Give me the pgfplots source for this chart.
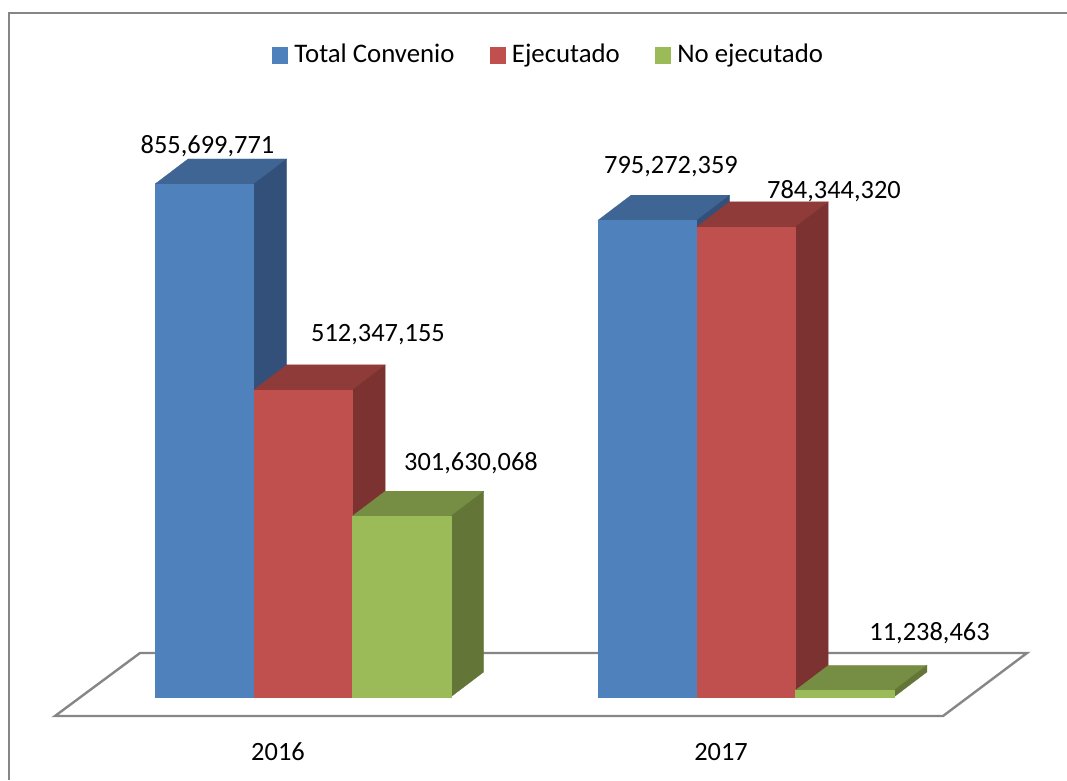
\documentclass[border=0pt]{standalone}
\usepackage{fontspec}
\setmainfont{Carlito}
\usepackage{pgfplots}
\pgfplotsset{compat=1.18}

\definecolor{blueF}{HTML}{4F81BD}
\definecolor{blueT}{HTML}{3E6594}
\definecolor{blueS}{HTML}{32507A}
\definecolor{redF}{HTML}{C0504D}
\definecolor{redT}{HTML}{8F3B39}
\definecolor{redS}{HTML}{7B3230}
\definecolor{greenF}{HTML}{9BBB59}
\definecolor{greenT}{HTML}{758E43}
\definecolor{greenS}{HTML}{637537}
\definecolor{frame}{HTML}{868686}

% bar width 98.5 px, depth 33 px across and 25 px up (41700575 in value units)
% #1 left edge, #2 value, #3 colour prefix
\newcommand\cuboid[3]{%
  \addplot[fill=#3T,draw=#3T,line width=0.2pt,forget plot] coordinates {
    ({#1},#2) ({#1+98.5},#2) ({#1+131.5},{#2+41700575}) ({#1+33},{#2+41700575})} --cycle;
  \addplot[fill=#3S,draw=#3S,line width=0.2pt,forget plot] coordinates {
    ({#1+98.5},0) ({#1+131.5},41700575) ({#1+131.5},{#2+41700575}) ({#1+98.5},#2)} --cycle;
  \addplot[fill=#3F,draw=#3F,line width=0.2pt,forget plot] coordinates {
    ({#1},0) ({#1+98.5},0) ({#1+98.5},#2) ({#1},#2)} --cycle;
}

\begin{document}%
\fontsize{26.4}{30}\selectfont%
\begin{tikzpicture}
\path[use as bounding box] (0,-64pt) rectangle (1067pt,716pt);
\begin{axis}[
  at={(0,0)},
  anchor=south west,
  scale only axis,
  width=1067pt,
  height=716pt,
  xmin=0,
  xmax=1067,
  ymin=-31692437,
  ymax=1162612031,
  clip=false,
  axis line style={draw=none},
  tick style={draw=none},
  ytick=\empty,
  xtick={278,721},
  xticklabels={2016,2017},
  xticklabel style={yshift=-18pt},
  legend columns=3,
  legend cell align=left,
  legend style={
    at={(axis cs:548.5,1071000000)},
    anchor=center,
    draw=none,
    fill=none,
    inner sep=0pt,
    font=\fontsize{26.8}{30}\selectfont,
    /tikz/every even column/.append style={column sep=33pt},
    /tikz/every odd column/.append style={column sep=5pt},
  },
  legend image code/.code={\fill[#1] (0pt,-8pt) rectangle (15pt,8pt);},
]
% chart frame, cut off by the page on the right and at the bottom
\addplot[draw=frame,line width=2pt,forget plot] coordinates {
  (9,-138445909) (9,1140927731) (1067,1140927731)};
% floor
\addplot[fill=white,draw=frame,line width=2.4pt,forget plot] coordinates {
  (55,-31692437) (140,73393012) (1027,73393012) (943,-31692437)} --cycle;

\cuboid{155}{855699771}{blue}
\cuboid{253.7}{512347155}{red}
\cuboid{352.2}{301630068}{green}
\cuboid{598}{795272359}{blue}
\cuboid{696.7}{784344320}{red}
\cuboid{795.4}{11238463}{green}

\addlegendimage{blueF}
\addlegendentry{Total Convenio}
\addlegendimage{redF}
\addlegendentry{Ejecutado}
\addlegendimage{greenF}
\addlegendentry{No ejecutado}

\node at (axis cs:207.5,918500000) {855,699,771};
\node at (axis cs:378,604500000) {512,347,155};
\node at (axis cs:471,390000000) {301,630,068};
\node at (axis cs:671,885500000) {795,272,359};
\node at (axis cs:834,843000000) {784,344,320};
\node at (axis cs:929.5,106000000) {11,238,463};
\end{axis}
\end{tikzpicture}%
\end{document}
